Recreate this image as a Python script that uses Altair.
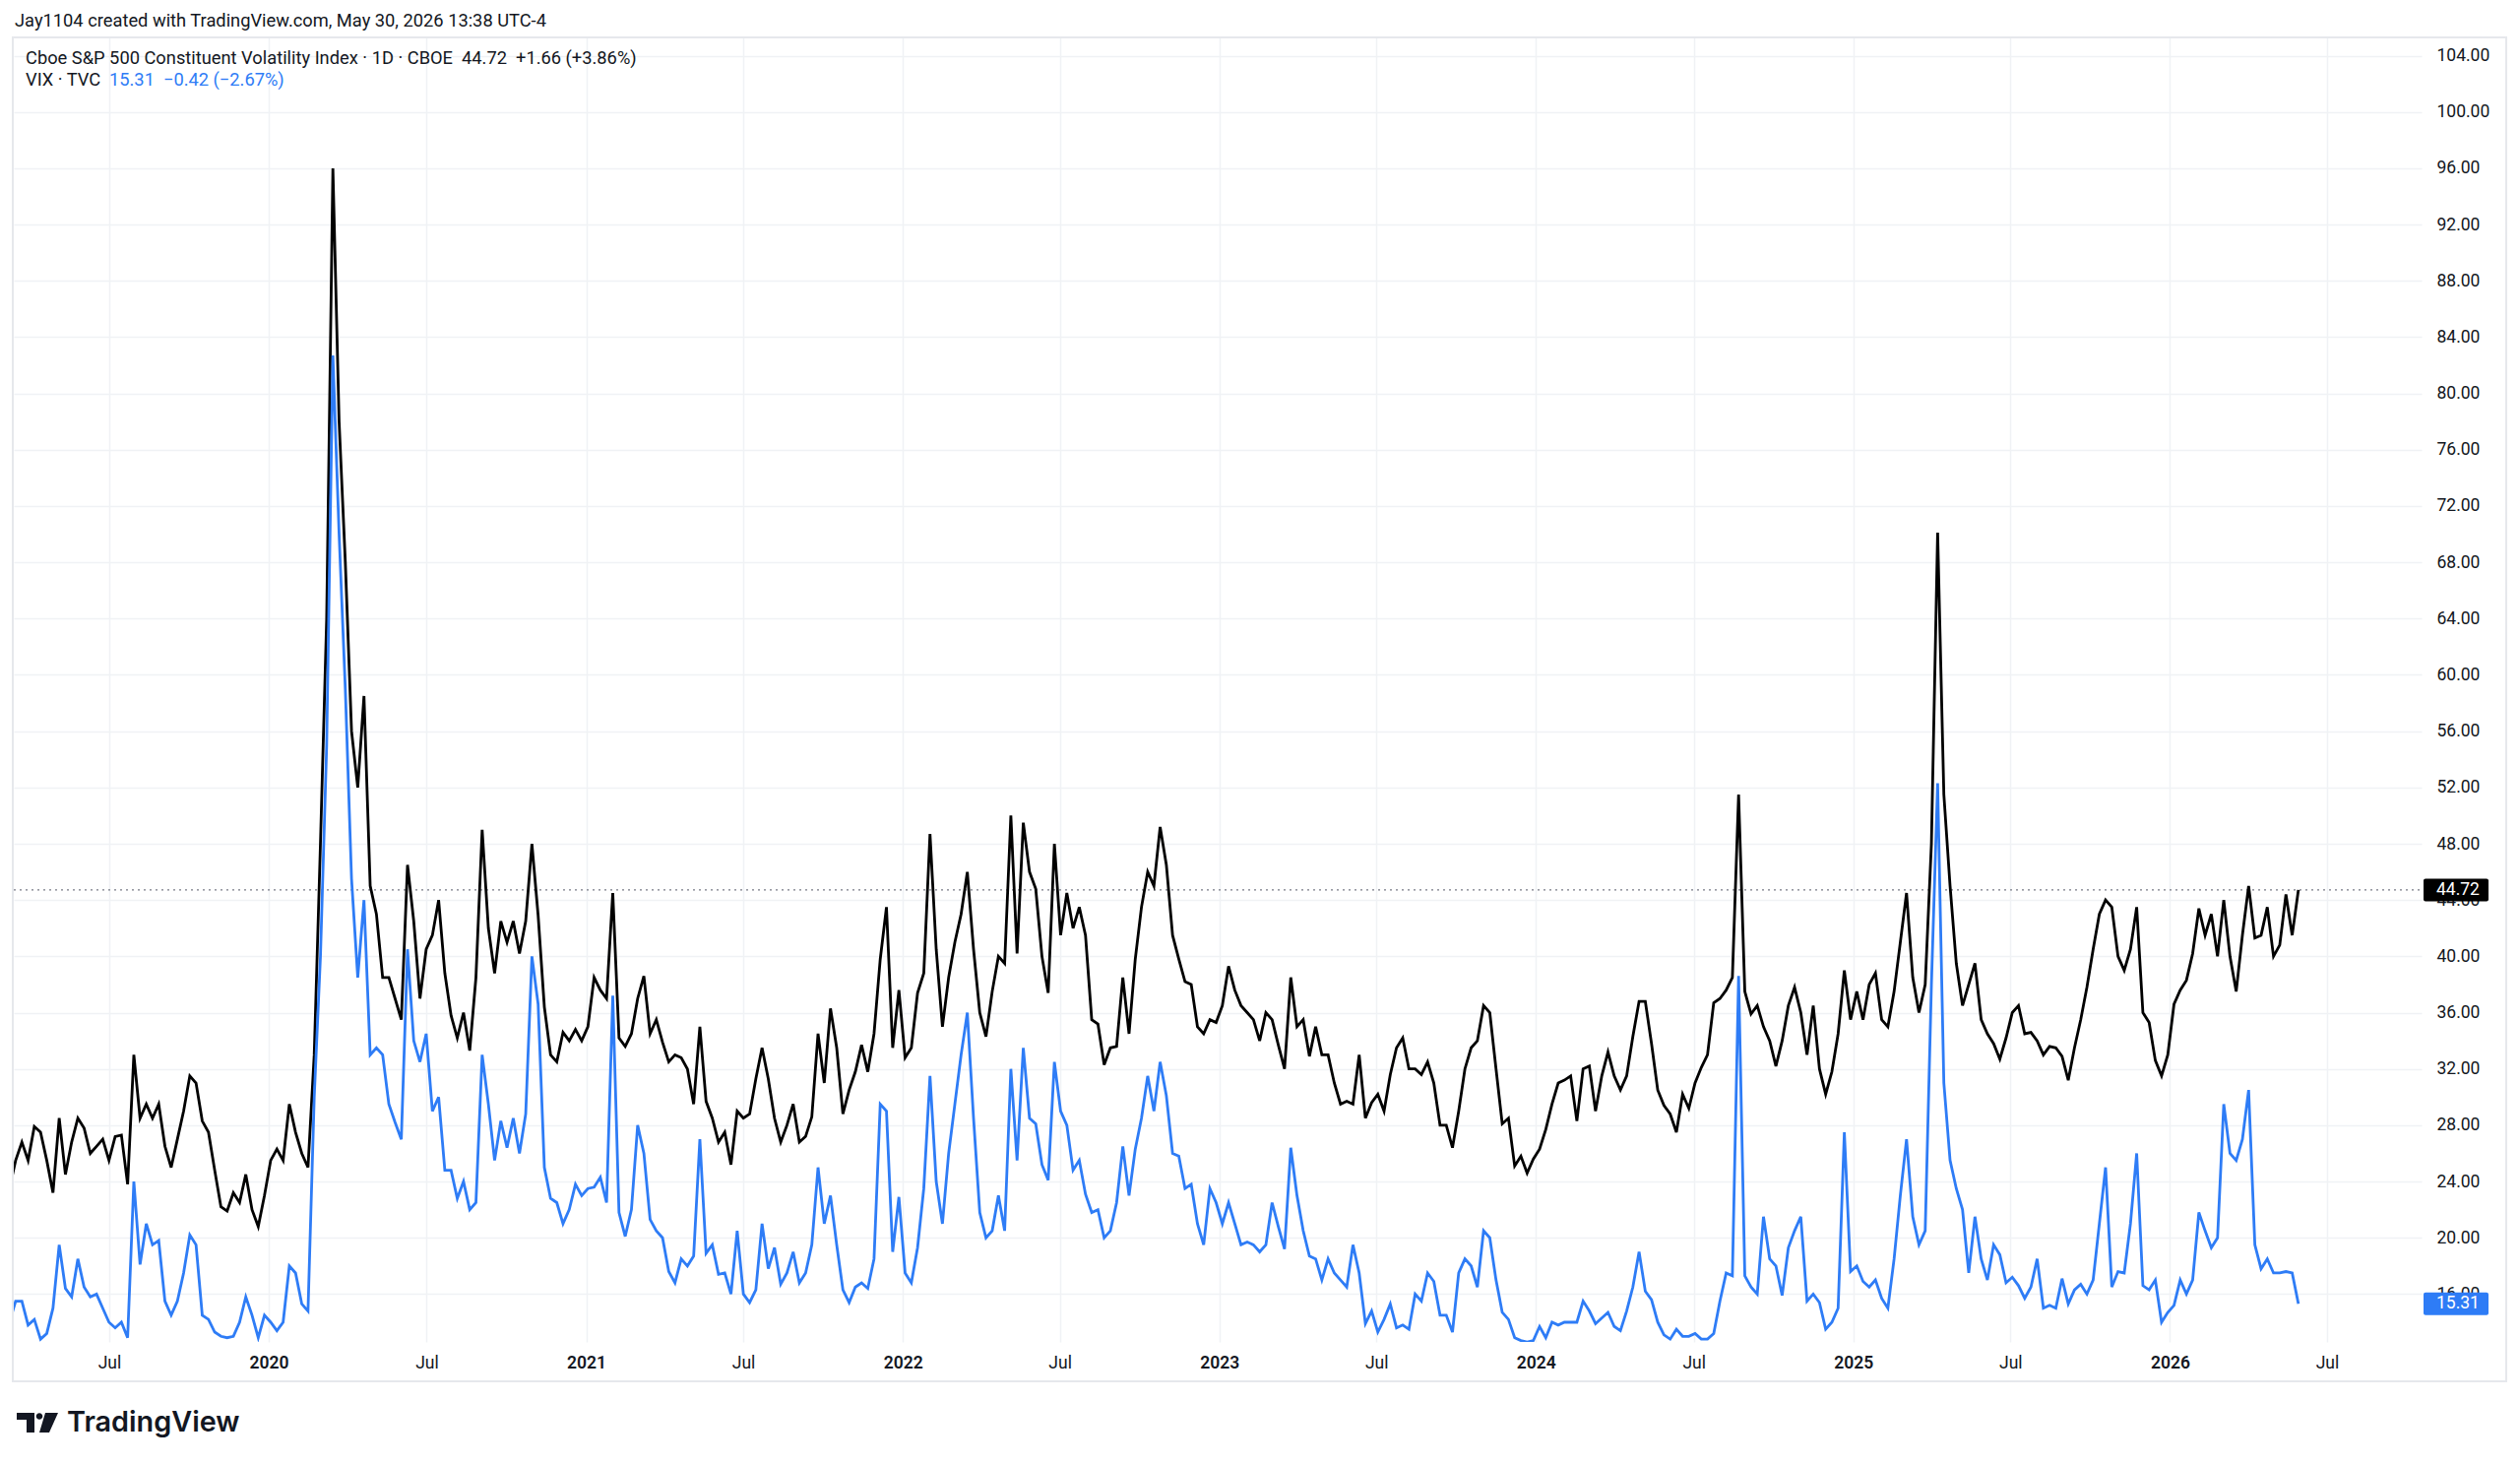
import altair as alt
import pandas as pd

# ---------------- data ----------------
# Cboe S&P 500 Constituent Volatility Index (black)
csvi = [
    23.5, 25.5, 26.8, 25.5, 27.9, 27.5, 25.5, 23.2, 28.5, 24.5, 26.8, 28.5, 27.8, 26.0, 26.5, 27.0, 25.5, 27.2, 27.3, 23.8,
    33.0, 28.5, 29.5, 28.5, 29.5, 26.5, 25.0, 27.0, 29.0, 31.5,
    31.0, 28.3, 27.5, 24.8, 22.2, 21.9, 23.2, 22.5, 24.5, 22.0,
    20.8, 23.0, 25.5, 26.3, 25.5, 29.5, 27.5, 26.0, 25.0, 33.0,
    48.0, 64.0, 96.0, 78.0, 68.0, 56.0, 52.0, 58.5, 45.0, 43.0,
    38.5, 38.5, 37.0, 35.5, 46.5, 42.5, 37.0, 40.5, 41.5, 44.0,
    38.8, 35.8, 34.2, 36.0, 33.3, 38.5, 49.0, 42.0, 38.8, 42.5,
    41.0, 42.5, 40.2, 42.5, 48.0, 42.9, 36.4, 33.0, 32.5, 34.6,
    34.0, 34.8, 34.0, 35.0, 38.5, 37.6, 37.0, 44.5, 34.2, 33.6,
    34.5, 37.0, 38.6, 34.5, 35.5, 33.9, 32.5, 33.0, 32.8, 32.0,
    29.5, 35.0, 29.7, 28.5, 26.8, 27.5, 25.2, 29.0, 28.5, 28.8,
    31.3, 33.5, 31.3, 28.5, 26.8, 28.0, 29.5, 26.8, 27.2, 28.6,
    34.5, 31.0, 36.3, 33.5, 28.8, 30.5, 31.8, 33.7, 31.8, 34.5,
    39.8, 43.5, 33.5, 37.6, 32.8, 33.5, 37.4, 38.8, 48.7, 40.5,
    35.0, 38.5, 41.0, 43.0, 46.0, 40.5, 36.0, 34.3, 37.5, 40.0,
    39.5, 50.0, 40.2, 49.5, 46.0, 44.8, 40.0, 37.4, 48.0, 41.5,
    44.5, 42.0, 43.5, 41.5, 35.5, 35.2, 32.3, 33.5, 33.6, 38.5,
    34.5, 39.8, 43.5, 46.0, 45.0, 49.2, 46.5, 41.5, 39.8, 38.2,
    38.0, 35.0, 34.5, 35.5, 35.3, 36.5, 39.3, 37.6, 36.5, 36.0,
    35.5, 34.0, 36.0, 35.5, 33.7, 32.0, 38.5, 35.0, 35.5, 32.9,
    35.0, 33.0, 33.0, 31.0, 29.5, 29.7, 29.5, 33.0, 28.5, 29.6,
    30.2, 29.0, 31.6, 33.5, 34.2, 32.0, 32.0, 31.6, 32.5, 31.0,
    28.0, 28.0, 26.4, 29.0, 32.0, 33.5, 34.0, 36.5, 36.0, 32.0,
    28.1, 28.5, 25.1, 25.8, 24.6, 25.6, 26.3, 27.7, 29.5, 31.0,
    31.2, 31.5, 28.3, 32.0, 32.2, 29.0, 31.5, 33.2, 31.5, 30.5,
    31.5, 34.3, 36.8, 36.8, 33.8, 30.5, 29.4, 28.8, 27.5, 30.2,
    29.2, 31.0, 32.1, 33.0, 36.7, 37.0, 37.6, 38.5, 51.5, 37.5,
    35.9, 36.5, 35.0, 34.0, 32.2, 34.0, 36.5, 37.8, 36.0, 33.0,
    36.5, 32.0, 30.2, 31.8, 34.5, 39.0, 35.5, 37.5, 35.5, 38.0,
    38.8, 35.5, 35.0, 37.5, 41.0, 44.5, 38.5, 36.0, 38.0, 48.0,
    70.1, 51.5, 45.0, 39.5, 36.5, 38.0, 39.5, 35.5, 34.5, 33.8,
    32.7, 34.2, 36.0, 36.5, 34.5, 34.6, 34.0, 33.0, 33.6, 33.5,
    32.9, 31.2, 33.5, 35.5, 37.8, 40.5, 43.0, 44.0, 43.5, 40.0,
    39.0, 40.5, 43.5, 36.0, 35.3, 32.6, 31.5, 33.0, 36.6, 37.6,
    38.3, 40.2, 43.4, 41.5, 43.0, 40.0, 44.0, 40.0, 37.5, 41.5,
    45.0, 41.3, 41.5, 43.5, 40.0, 40.8, 44.4, 41.5, 44.72,
]

# VIX (blue)
vix = [
    14.0, 15.5, 15.5, 13.8, 14.2, 12.8, 13.2, 15.0, 19.5, 16.4, 15.8, 18.5, 16.5, 15.8, 16.0, 15.0, 14.0, 13.6, 14.0, 12.9,
    24.0, 18.1, 21.0, 19.5, 19.8, 15.5, 14.5, 15.5, 17.5, 20.2,
    19.5, 14.5, 14.2, 13.3, 13.0, 12.9, 13.0, 14.0, 15.8, 14.5,
    12.9, 14.5, 14.0, 13.4, 14.0, 18.0, 17.5, 15.3, 14.8, 30.0,
    40.0, 55.0, 82.7, 70.0, 59.0, 45.5, 38.5, 44.0, 33.0, 33.5,
    33.0, 29.5, 28.2, 27.0, 40.5, 34.0, 32.5, 34.5, 29.0, 30.0,
    24.8, 24.8, 22.8, 24.0, 22.0, 22.5, 33.0, 29.5, 25.5, 28.3,
    26.4, 28.5, 26.0, 28.8, 40.0, 36.6, 25.0, 22.8, 22.5, 21.0,
    22.0, 23.8, 23.0, 23.5, 23.6, 24.3, 22.5, 37.2, 21.8, 20.1,
    22.0, 28.0, 26.0, 21.3, 20.5, 20.0, 17.6, 16.8, 18.5, 18.0,
    18.7, 27.0, 18.9, 19.5, 17.4, 17.5, 16.0, 20.5, 16.0, 15.4,
    16.3, 21.0, 17.8, 19.3, 16.7, 17.5, 19.0, 16.8, 17.5, 19.5,
    25.0, 21.0, 23.0, 19.5, 16.3, 15.4, 16.5, 16.8, 16.4, 18.5,
    29.5, 29.0, 19.0, 22.9, 17.5, 16.8, 19.3, 23.5, 31.5, 24.0,
    21.0, 26.0, 29.5, 33.0, 36.0, 28.5, 21.8, 20.0, 20.5, 23.0,
    20.5, 32.0, 25.5, 33.5, 28.5, 28.1, 25.2, 24.1, 32.5, 29.0,
    28.0, 24.8, 25.5, 23.1, 21.8, 22.0, 20.0, 20.5, 22.5, 26.5,
    23.0, 26.3, 28.5, 31.5, 29.0, 32.5, 30.1, 26.0, 25.8, 23.5,
    23.8, 21.0, 19.5, 23.5, 22.5, 21.0, 22.5, 21.0, 19.5, 19.7,
    19.5, 19.0, 19.5, 22.5, 20.8, 19.2, 26.4, 23.0, 20.5, 18.7,
    18.5, 17.0, 18.5, 17.5, 17.0, 16.5, 19.5, 17.5, 13.9, 14.8,
    13.3, 14.2, 15.3, 13.6, 13.8, 13.5, 16.0, 15.5, 17.5, 16.9,
    14.5, 14.5, 13.3, 17.5, 18.5, 18.0, 16.5, 20.5, 20.0, 17.0,
    14.7, 14.2, 12.9, 12.7, 12.6, 12.7, 13.7, 12.9, 14.0, 13.8,
    14.0, 14.0, 14.0, 15.5, 14.8, 13.9, 14.3, 14.7, 13.7, 13.4,
    14.8, 16.5, 19.0, 16.2, 15.6, 14.0, 13.1, 12.8, 13.5, 13.0,
    13.0, 13.2, 12.8, 12.8, 13.2, 15.5, 17.5, 17.3, 38.6, 17.3,
    16.5, 16.0, 21.5, 18.5, 18.0, 15.9, 19.3, 20.5, 21.5, 15.5,
    16.0, 15.4, 13.5, 14.0, 15.0, 27.5, 17.6, 18.0, 16.9, 16.5,
    17.0, 15.7, 15.0, 18.5, 23.0, 27.0, 21.5, 19.5, 20.5, 38.0,
    52.3, 31.0, 25.5, 23.5, 22.0, 17.5, 21.5, 18.5, 17.0, 19.5,
    18.8, 16.8, 17.2, 16.6, 15.7, 16.5, 18.5, 15.0, 15.2, 15.0,
    17.1, 15.3, 16.3, 16.7, 16.0, 17.0, 21.0, 25.0, 16.5, 17.6,
    17.5, 21.0, 26.0, 16.6, 16.3, 17.0, 14.0, 14.7, 15.2, 17.0,
    16.0, 17.0, 21.8, 20.5, 19.3, 20.0, 29.5, 26.0, 25.5, 27.0,
    30.5, 19.5, 17.8, 18.5, 17.5, 17.5, 17.6, 17.5, 15.31,
]

first_date = "2019-03-08"
last_date = "2026-05-29"
y_ticks = list(range(16, 105, 4))
x_tick_months = [(2019, 7)] + [(y, m) for y in range(2020, 2027) for m in (1, 7)]

title_main = "Cboe S&P 500 Constituent Volatility Index \u00b7 1D \u00b7 CBOE\u00a0\u00a044.72\u00a0\u00a0+1.66 (+3.86%)"
title_vix_name = "VIX \u00b7 TVC"
title_vix_vals = "15.31\u00a0\u00a0\u22120.42 (\u22122.67%)"
header = "Jay1104 created with TradingView.com, May 30, 2026 13:38 UTC-4"

# ---------------- build ----------------
dates = pd.date_range(first_date, last_date, periods=len(csvi))
df = pd.DataFrame({
    "date": [d.strftime("%Y-%m-%dT%H:%M:%SZ") for d in dates],
    "csvi": csvi,
    "vix": vix,
})

TEXT = "#131722"
BLUE = "#2e7cf6"
GRID = "#f0f2f5"
FONT = "Roboto"
W, H = 2446, 1325
HDR = 18.3

x_scale = alt.Scale(type="utc", domain=[alt.DateTime(year=2019, month=3, date=13, utc=True),
                                        alt.DateTime(year=2026, month=10, date=18, utc=True)])
x_axis = alt.Axis(
    values=[alt.DateTime(year=y, month=m, date=1, utc=True) for y, m in x_tick_months],
    labelExpr="utcmonth(datum.value) == 0 ? utcFormat(datum.value, '%Y') : 'Jul'",
    labelFontWeight={"condition": {"test": "utcmonth(datum.value) == 0", "value": 600}, "value": 400},
    grid=True, gridColor=GRID, gridWidth=1.5, ticks=False, domain=False,
    labelPadding=12, labelFontSize=17.5, labelColor=TEXT, labelFont=FONT,
    title=None, labelFlush=False, labelOverlap=False,
)
y_scale = alt.Scale(domain=[12.6, 105.3], nice=False, zero=False)
y_axis = alt.Axis(
    orient="right", values=y_ticks, format=".2f", grid=True, gridColor=GRID, gridWidth=1.5,
    ticks=False, tickSize=0, domain=False, labelPadding=15, labelAlign="left",
    labelBaseline="middle", labelFontSize=17.5, labelColor=TEXT, labelFont=FONT,
    title=None, labelFlush=False, labelOverlap=False,
)


def X(field):
    return alt.X(f"{field}:T", scale=x_scale, axis=x_axis)


def Y(field):
    return alt.Y(f"{field}:Q", scale=y_scale, axis=y_axis)


base = alt.Chart(df)
black_line = base.mark_line(color="#000000", strokeWidth=2.8, clip=True).encode(x=X("date"), y=Y("csvi"))
blue_line = base.mark_line(color=BLUE, strokeWidth=2.8, clip=True).encode(x=X("date"), y=Y("vix"))

tags = pd.DataFrame({
    "v": [csvi[-1], vix[-1]],
    "label": [f"{csvi[-1]:.2f}", f"{vix[-1]:.2f}"],
    "fill": ["#000000", BLUE],
})
last_rule = alt.Chart(tags.iloc[:1]).mark_rule(strokeDash=[2, 4], color="#787b86", strokeWidth=1.2).encode(
    y=Y("v"), x=alt.value(0), x2=alt.value(W))
tag_box = alt.Chart(tags).mark_rect(yOffset=-11.5, y2Offset=11.5, cornerRadius=2).encode(
    y=Y("v"), y2="v:Q", x=alt.value(W + 2), x2=alt.value(W + 68), color=alt.Color("fill:N", scale=None))
tag_text = alt.Chart(tags).mark_text(align="left", baseline="middle", color="white", fontSize=17.5, font=FONT).encode(
    y=Y("v"), x=alt.value(W + 15), text="label:N")

one = pd.DataFrame({"a": [0]})
frame = alt.Chart(one).mark_rect(fillOpacity=0, stroke="#e6e8ec", strokeWidth=2).encode(
    x=alt.value(-1), x2=alt.value(2532), y=alt.value(0), y2=alt.value(1365))


def txt(s, x, y, size=HDR, color=TEXT, weight=400, font=FONT):
    return alt.Chart(one).mark_text(align="left", baseline="middle", fontSize=size, color=color,
                                    fontWeight=weight, font=font).encode(
        x=alt.value(x), y=alt.value(y), text=alt.value(s))


LOGO = ("M -1 -0.4545 L -0.1818 -0.4545 L -0.1818 0.4545 L -0.5455 0.4545 L -0.5455 -0.1364 L -1 -0.1364 Z "
        "M -0.1045 -0.2955 A 0.15 0.15 0 1 0 0.1955 -0.2955 A 0.15 0.15 0 1 0 -0.1045 -0.2955 Z "
        "M 0.318 -0.4545 L 0.909 -0.4545 L 0.5 0.4545 L 0.0455 0.4545 Z")
logo = alt.Chart(one).mark_point(shape=LOGO, filled=True, size=1936, color=TEXT, opacity=1).encode(
    x=alt.value(25), y=alt.value(1407))

chart = alt.layer(
    frame, last_rule, black_line, blue_line, tag_box, tag_text,
    txt(header, 1, -16),
    txt(title_main, 12, 22),
    txt(title_vix_name, 12, 44),
    txt(title_vix_vals, 97, 44, color=BLUE),
    txt("TradingView", 54, 1407, size=28.8, weight=600, font="Inter"),
    logo,
).properties(
    width=W, height=H,
    padding={"left": 6, "top": 30, "right": 92, "bottom": 112},
    autosize=alt.AutoSizeParams(type="none"),
    background="#ffffff",
).configure_view(strokeWidth=0)

chart.save("out.html", embed_options={"renderer": "svg", "actions": False})
